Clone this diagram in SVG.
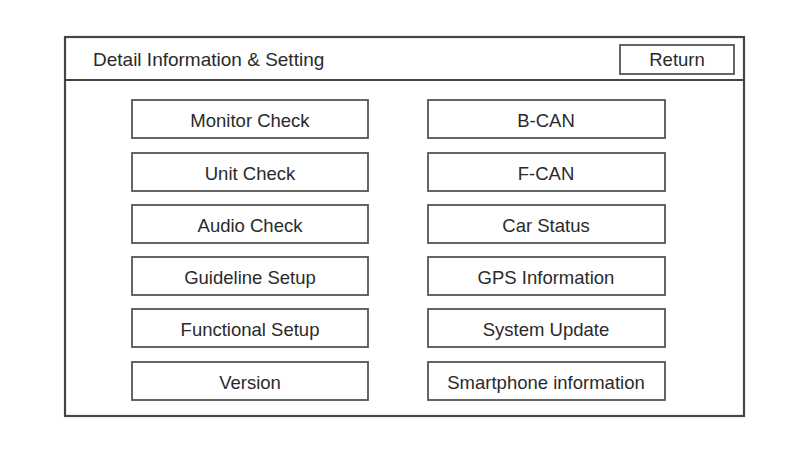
<svg xmlns="http://www.w3.org/2000/svg" width="812" height="474" viewBox="0 0 812 474">
<style>
.frame{fill:#fff;stroke:#444;stroke-width:2.2}
.btn{fill:#fff;stroke:#555;stroke-width:1.8}
.t{font-family:"Liberation Sans",Arial,sans-serif;font-size:18.5px;fill:#2a2a2a;text-anchor:middle;dominant-baseline:central}
.h{font-family:"Liberation Sans",Arial,sans-serif;font-size:19px;fill:#2a2a2a}
</style>
<rect width="812" height="474" fill="#fff"/>
<g id="screen">
<rect class="frame" x="65" y="37" width="679" height="379"/>
<line x1="65" y1="80" x2="744" y2="80" stroke="#444" stroke-width="1.8"/>
<text class="h" x="93" y="66">Detail Information &amp; Setting</text>
</g>
<g id="return"><rect class="btn" x="620" y="45" width="114" height="29"/><text class="t" x="677" y="59.5">Return</text></g>
<g id="monitor-check"><rect class="btn" x="132" y="100" width="236" height="38"/><text class="t" x="250" y="120">Monitor Check</text></g>
<g id="unit-check"><rect class="btn" x="132" y="153" width="236" height="38"/><text class="t" x="250" y="173">Unit Check</text></g>
<g id="audio-check"><rect class="btn" x="132" y="205" width="236" height="38"/><text class="t" x="250" y="225">Audio Check</text></g>
<g id="guideline-setup"><rect class="btn" x="132" y="257" width="236" height="38"/><text class="t" x="250" y="277">Guideline Setup</text></g>
<g id="functional-setup"><rect class="btn" x="132" y="309" width="236" height="38"/><text class="t" x="250" y="329">Functional Setup</text></g>
<g id="version"><rect class="btn" x="132" y="362" width="236" height="38"/><text class="t" x="250" y="382">Version</text></g>
<g id="b-can"><rect class="btn" x="428" y="100" width="237" height="38"/><text class="t" x="546" y="120">B-CAN</text></g>
<g id="f-can"><rect class="btn" x="428" y="153" width="237" height="38"/><text class="t" x="546" y="173">F-CAN</text></g>
<g id="car-status"><rect class="btn" x="428" y="205" width="237" height="38"/><text class="t" x="546" y="225">Car Status</text></g>
<g id="gps-information"><rect class="btn" x="428" y="257" width="237" height="38"/><text class="t" x="546" y="277">GPS Information</text></g>
<g id="system-update"><rect class="btn" x="428" y="309" width="237" height="38"/><text class="t" x="546" y="329">System Update</text></g>
<g id="smartphone-information"><rect class="btn" x="428" y="362" width="237" height="38"/><text class="t" x="546" y="382">Smartphone information</text></g>
<g id="connectors"></g>
</svg>
